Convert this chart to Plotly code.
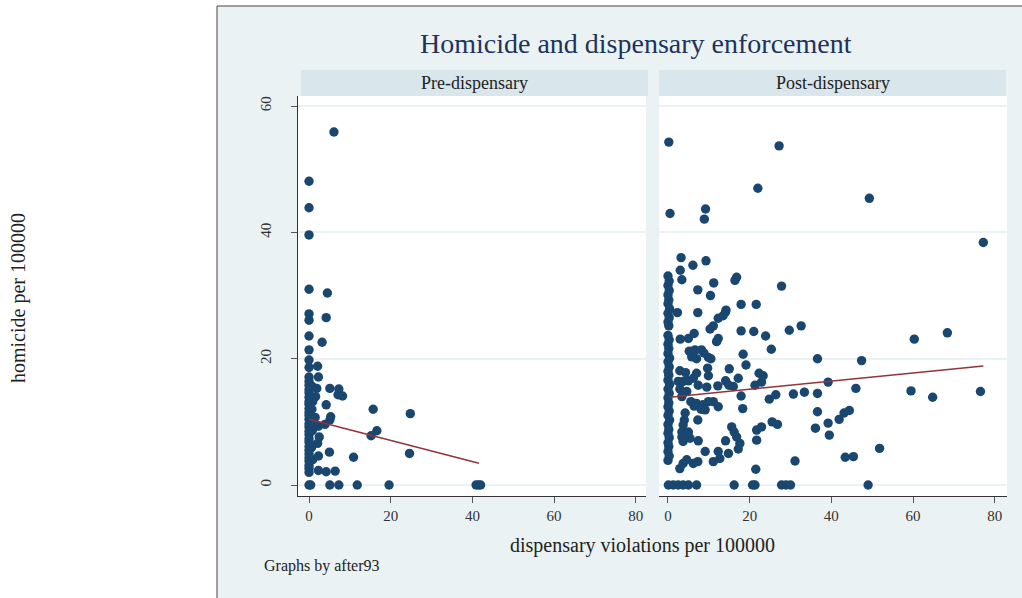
import plotly.graph_objects as go

# ---------------- data ----------------
panels = ["Pre-dispensary", "Post-dispensary"]
title_text = "Homicide and dispensary enforcement"
x_title = "dispensary violations per 100000"
y_title = "homicide per 100000"
note_text = "Graphs by after93"
x_ticks = [0, 20, 40, 60, 80]
y_ticks = [0, 20, 40, 60]

pre_x = [6.1, 0, 0, 0, 0, 4.5, 0, 0, 4.2, 0, 3.2, 0, 0, 0, 2.1, 0, 2.3,
         5.1, 7.3, 7.1, 8.2, 1.9, 1.6, 4.2, 15.7, 24.8, 1.5, 5.3, 5.1, 2.3,
         3.9, 16.6, 15.2, 2.5, 2.1, 5.0, 2.3, 10.9, 24.6, 2.3, 4.2, 6.4,
         0, 0.4, 5.1, 7.3, 11.8, 19.6, 40.9, 41.5, 42.0,
         0, 0, 0, 0, 0, 0, 0, 0, 0, 0, 0, 0, 0, 0, 0, 0, 0, 0, 0, 0, 0, 0,
         0, 0, 0,
         0.8, 0.9, 0.7, 1.0, 0.8, 0.6, 0.9]
pre_y = [55.9, 48.1, 43.9, 39.6, 31.0, 30.4, 27.1, 26.1, 26.5, 23.6, 22.6,
         21.4, 19.8, 18.6, 18.8, 17.1, 17.1,
         15.3, 15.2, 14.3, 14.1, 15.3, 14.0, 12.7, 12.0, 11.3, 10.7, 10.8,
         10.3, 9.3, 9.6, 8.6, 7.8, 7.6, 6.6, 5.2, 4.6, 4.4, 5.0, 2.3, 2.1, 2.2,
         0, 0, 0, 0, 0, 0, 0, 0, 0,
         16.4, 15.8, 15.1, 14.6, 13.9, 13.2, 12.8, 12.1, 11.5, 11.0, 10.4,
         9.7, 9.2, 8.5, 8.0, 7.3, 6.8, 6.1, 5.5, 4.9, 4.3, 3.8, 3.1, 2.6, 2.0,
         15.6, 13.2, 12.0, 9.8, 8.6, 5.9, 4.0]

post_x = [0.2, 27.2, 22.0, 49.3, 0.5, 9.2, 8.9, 77.2,
          3.2, 9.3, 6.1, 3.0, 3.4, 16.8, 16.4, 11.2, 7.3, 10.4, 27.8, 17.9,
          21.6, 14.2, 2.3, 7.3, 14.1, 13.5, 12.3, 10.3, 11.1, 17.9, 21.0, 23.9,
          3.0, 5.0, 6.4, 12.3, 11.9, 5.2, 6.6, 8.2, 8.8, 9.9, 18.4, 19.1, 5.8,
          7.0, 10.5, 2.9, 4.3, 7.0, 9.7, 9.9, 15.0, 17.2, 22.3, 23.3, 2.5, 3.7,
          5.0, 6.2, 7.4, 9.5, 12.2, 14.1, 14.9, 16.0, 17.9, 2.9, 4.6, 3.4, 5.6,
          6.4, 7.0, 8.6, 9.9, 11.1, 8.1, 9.1, 12.3, 18.3, 4.2, 4.0, 3.7, 7.3,
          15.6, 16.2, 16.8, 17.6, 3.4, 3.4, 3.7, 5.0, 5.0, 5.4, 7.4, 14.1, 21.7,
          22.9, 21.7, 9.1, 12.3, 12.7, 14.8, 17.2, 11.1, 6.2, 7.3, 2.9, 3.7,
          4.6, 21.5,
          29.7, 32.6, 25.3, 36.6, 47.4, 22.9, 21.3, 39.2, 46.0, 24.8, 26.4,
          30.7, 33.4, 36.6, 36.6, 39.2, 39.5, 36.1, 41.9, 43.1, 44.4, 25.5,
          26.8, 31.1, 43.4, 45.4, 51.8,
          60.3, 68.4, 59.5, 64.8, 76.5,
          0.1, 1.3, 2.5, 3.7, 5.0, 7.0, 16.2, 20.7, 21.3, 27.8, 28.9, 30.0, 49.0,
          0, 0.3, 0, 0.3, 0, 0.2, 0, 0.4, 0, 0.3, 0, 0.2,
          0, 0.3, 0, 0.2, 0, 0.4, 0, 0.3, 0, 0.2, 0, 0.4, 0, 0.3, 0, 0.2, 0,
          0.3, 0, 0.4, 0, 0.2, 0, 0.3, 0, 0.2, 0, 0.3, 0]
post_y = [54.3, 53.7, 47.0, 45.4, 43.0, 43.7, 42.1, 38.4,
          36.0, 35.5, 34.8, 34.0, 32.5, 32.9, 32.4, 32.0, 30.9, 30.0, 31.5, 28.6,
          28.6, 27.7, 27.3, 27.3, 27.4, 26.8, 26.4, 24.7, 25.2, 24.4, 24.3, 23.6,
          23.1, 23.2, 24.0, 23.2, 22.7, 21.2, 21.4, 21.4, 20.9, 20.2, 20.7, 19.0,
          20.3, 20.0, 20.0, 18.1, 17.8, 17.7, 18.5, 17.3, 18.4, 16.9, 17.7, 17.3,
          16.4, 16.4, 16.5, 16.9, 15.8, 15.5, 15.7, 16.5, 15.8, 15.6, 14.1, 15.2,
          14.8, 14.0, 13.2, 12.5, 12.9, 12.7, 13.2, 13.2, 12.0, 11.9, 12.4, 12.1,
          11.4, 10.3, 9.5, 10.3, 9.2, 8.4, 7.6, 6.6, 8.4, 7.6, 6.9, 8.4, 7.6, 7.4,
          7.0, 7.0, 8.7, 9.2, 7.1, 5.3, 5.3, 4.2, 5.0, 5.7, 3.7, 3.4, 3.7, 2.6,
          3.4, 4.0, 2.5,
          24.5, 25.2, 21.5, 20.0, 19.7, 16.3, 15.8, 16.3, 15.3, 13.6, 14.3,
          14.4, 14.7, 14.5, 11.6, 9.8, 7.9, 9.0, 10.4, 11.4, 11.8, 10.0,
          9.6, 3.8, 4.4, 4.5, 5.8,
          23.1, 24.1, 14.9, 13.9, 14.8,
          0, 0, 0, 0, 0, 0, 0, 0, 0, 0, 0, 0, 0,
          33.1, 32.3, 31.6, 30.8, 30.1, 29.3, 28.7, 27.9, 27.2, 26.5, 25.8, 25.2,
          23.7, 23.0, 22.3, 21.6, 20.8, 20.1, 19.5, 18.7, 18.0, 17.4, 16.6,
          15.9, 15.2, 14.5, 13.8, 13.0, 12.4, 11.7, 11.0, 10.3, 9.6, 8.8, 8.2,
          7.5, 6.7, 6.1, 5.3, 4.6, 3.9, 3.2, 2.4]

# fitted lines (end points)
pre_fit_x = [0, 41.6]
pre_fit_y = [10.4, 3.45]
post_fit_x = [0.5, 77.2]
post_fit_y = [13.9, 18.85]

# ---------------- styling ----------------
W, H = 1022, 598
BG = "#eaf2f3"
STRIP = "#d9e6eb"
NAVY = "#1a476f"
MAROON = "#90353b"
FONT = "Liberation Serif"


def px(v):
    return v / W


def py(v):
    return 1 - v / H


fig = go.Figure()
fig.add_trace(go.Scatter(x=pre_x, y=pre_y, mode="markers", xaxis="x", yaxis="y",
                         marker=dict(color=NAVY, size=9.4), showlegend=False))
fig.add_trace(go.Scatter(x=pre_fit_x, y=pre_fit_y, mode="lines", xaxis="x", yaxis="y",
                         line=dict(color=MAROON, width=1.5), showlegend=False))
fig.add_trace(go.Scatter(x=post_x, y=post_y, mode="markers", xaxis="x2", yaxis="y2",
                         marker=dict(color=NAVY, size=9.4), showlegend=False))
fig.add_trace(go.Scatter(x=post_fit_x, y=post_fit_y, mode="lines", xaxis="x2", yaxis="y2",
                         line=dict(color=MAROON, width=1.5), showlegend=False))

xcommon = dict(tickvals=x_ticks, ticks="outside", ticklen=6, tickcolor="#555",
               showline=True, linecolor="#333", linewidth=1, showgrid=False,
               zeroline=False, tickfont=dict(family=FONT, size=15, color="#333"))
ycommon = dict(range=[-1.74, 61.6], tickvals=y_ticks, showgrid=True,
               gridcolor=BG, gridwidth=1.5, zeroline=False,
               domain=[py(496), py(96)])

fig.update_layout(
    width=W, height=H,
    margin=dict(l=0, r=0, t=0, b=0),
    paper_bgcolor=BG, plot_bgcolor="white",
    xaxis=dict(domain=[px(298), px(646)], range=[-2.7, 82.5], anchor="y", **xcommon),
    xaxis2=dict(domain=[px(659), px(1007)], range=[-2.2, 83.0], anchor="y2", **xcommon),
    yaxis=dict(anchor="x", ticks="outside", ticklen=6, tickcolor="#555",
               showline=True, linecolor="#333", linewidth=1, tickangle=-90,
               ticklabelstandoff=14,
               tickfont=dict(family=FONT, size=15, color="#333"), **ycommon),
    yaxis2=dict(anchor="x2", matches="y", showticklabels=False, ticks="",
                showline=False, **ycommon),
    shapes=[
        dict(type="rect", xref="paper", yref="paper", x0=0, x1=px(217),
             y0=0, y1=1, fillcolor="white", line=dict(width=0), layer="below"),
        dict(type="rect", xref="paper", yref="paper", x0=0, x1=1,
             y0=py(6), y1=1, fillcolor="white", line=dict(width=0), layer="below"),
        dict(type="line", xref="paper", yref="paper", x0=px(217), x1=1.0,
             y0=py(6), y1=py(6), line=dict(color="#444", width=1), layer="below"),
        dict(type="line", xref="paper", yref="paper", x0=px(217), x1=px(217),
             y0=0, y1=py(6), line=dict(color="#444", width=1), layer="below"),
        dict(type="rect", xref="paper", yref="paper", x0=px(301), x1=px(648),
             y0=py(96), y1=py(70), fillcolor=STRIP, line=dict(width=0), layer="below"),
        dict(type="rect", xref="paper", yref="paper", x0=px(659), x1=px(1006),
             y0=py(96), y1=py(70), fillcolor=STRIP, line=dict(width=0), layer="below"),
    ],
    annotations=[
        dict(text=title_text, x=px(636), y=py(44), xref="paper", yref="paper",
             showarrow=False, xanchor="center", yanchor="middle",
             font=dict(family=FONT, size=28, color="#23325a")),
        dict(text=panels[0], x=px(474.5), y=py(83), xref="paper", yref="paper",
             showarrow=False, xanchor="center", yanchor="middle",
             font=dict(family=FONT, size=18, color="#222")),
        dict(text=panels[1], x=px(832.5), y=py(83), xref="paper", yref="paper",
             showarrow=False, xanchor="center", yanchor="middle",
             font=dict(family=FONT, size=18, color="#222")),
        dict(text=x_title, x=px(642), y=py(545), xref="paper", yref="paper",
             showarrow=False, xanchor="center", yanchor="middle",
             font=dict(family=FONT, size=20, color="#222")),
        dict(text=y_title, x=px(18), y=py(298), xref="paper", yref="paper",
             showarrow=False, xanchor="center", yanchor="middle", textangle=-90,
             font=dict(family=FONT, size=20, color="#222")),
        dict(text=note_text, x=px(262), y=py(566), xref="paper", yref="paper",
             showarrow=False, xanchor="left", yanchor="middle",
             font=dict(family=FONT, size=16, color="#222")),
    ],
)

fig.write_html("out.html", config={"displayModeBar": False},
               post_script="document.body.style.margin='0';document.body.style.padding='0';")
